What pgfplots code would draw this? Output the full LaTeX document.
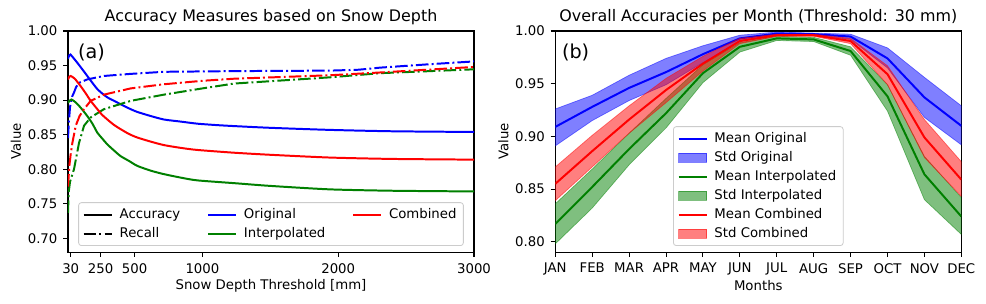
\documentclass[border=0pt]{standalone}
\usepackage{fontspec}
\setmainfont{DejaVu Sans}
\usepackage{pgfplots}
\pgfplotsset{compat=1.18}
\usepackage{pgfplotstable}

\newcommand{\fs}{\fontsize{9.7}{11.6}\selectfont}
\definecolor{mblue}{RGB}{0,0,255}
\definecolor{mgreen}{RGB}{0,128,0}
\definecolor{mred}{RGB}{255,0,0}
\definecolor{legframe}{RGB}{204,204,204}

\pgfplotstableread{
x acc
10 0.960
20 0.965
28 0.966
50 0.961
79 0.954
110 0.946
152 0.935
190 0.925
226 0.916
260 0.910
300 0.904
350 0.899
398 0.894
460 0.888
520 0.883
620 0.877
717 0.872
840 0.869
962 0.866
1100 0.864
1233 0.8625
1500 0.860
1939 0.857
2400 0.855
3000 0.854
}\accorig

\pgfplotstableread{
x acc
10 0.930
20 0.934
30 0.935
60 0.931
104 0.920
140 0.910
177 0.899
226 0.887
260 0.879
300 0.872
350 0.864
398 0.858
460 0.851
520 0.846
620 0.840
717 0.835
840 0.831
962 0.828
1233 0.824
1500 0.821
1939 0.817
2400 0.815
3000 0.814
}\acccomb

\pgfplotstableread{
x acc
10 0.896
20 0.899
35 0.901
65 0.897
104 0.889
152 0.877
190 0.866
226 0.853
260 0.845
300 0.836
350 0.827
398 0.819
460 0.812
520 0.805
620 0.798
717 0.793
840 0.788
962 0.784
1233 0.780
1500 0.776
1939 0.771
2400 0.769
3000 0.768
}\accinterp

\pgfplotstableread{
x rec
10 0.845
17 0.870
25 0.890
40 0.905
54 0.911
70 0.919
91 0.925
152 0.930
275 0.935
472 0.938
717 0.941
1233 0.942
1939 0.9427
2150 0.944
2307 0.947
2676 0.952
3000 0.956
}\recorig

\pgfplotstableread{
x rec
10 0.775
20 0.805
30 0.822
42 0.838
67 0.863
95 0.877
128 0.887
177 0.899
275 0.908
472 0.917
717 0.923
1000 0.928
1233 0.931
1939 0.936
2307 0.940
3000 0.948
}\reccomb

\pgfplotstableread{
x rec
10 0.737
15 0.767
25 0.782
54 0.800
91 0.838
128 0.863
177 0.875
275 0.887
472 0.899
717 0.908
1000 0.917
1233 0.924
1939 0.933
2307 0.939
3000 0.9446
}\recinterp

\pgfplotstableread{
m bm rm gm
0 0.909 0.855 0.817
1 0.928 0.886 0.852
2 0.946 0.916 0.888
3 0.961 0.944 0.922
4 0.978 0.969 0.960
5 0.993 0.9905 0.985
6 0.9975 0.996 0.993
7 0.997 0.996 0.992
8 0.9947 0.9905 0.981
9 0.974 0.959 0.938
10 0.937 0.899 0.864
11 0.910 0.859 0.824
}\monthdata

\pgfplotsset{
  base/.style={
    scale only axis, width=296.38pt, height=161.55pt,
    axis line style={line width=0.78pt},
    tick style={line width=0.78pt, black},
    major tick length=3.4pt,
    tick align=outside, tick pos=left,
    tick label style={font=\fs},
    xticklabel style={yshift=-1pt},
    yticklabel style={xshift=-0.8pt},
    every axis title/.style={at={(axis description cs:0.5,1.062)}, anchor=center, font=\fontsize{11.6}{13.9}\selectfont},
    every axis x label/.style={at={(axis description cs:0.5,-0.152)}, anchor=center, font=\fs},
    every axis y label/.style={at={(axis description cs:-0.128,0.5)}, anchor=center, rotate=90, font=\fs},
    legend cell align=left,
    legend image code/.code={\draw[#1, sharp corners] (0pt,0pt) -- (20.5pt,0pt);},
    legend style={
      font=\fs, draw=legframe, line width=0.6pt, rounded corners=2pt,
      fill=white, fill opacity=0.8, text opacity=1,
      inner xsep=3pt, inner ysep=2.3pt, row sep=1.0pt,
      at={(0.5,0.0285)}, anchor=south,
      /tikz/every odd column/.append style={column sep=3pt},
    },
  },
  patchleg/.style={legend image code/.code={\draw[##1, sharp corners] (0pt,-3.4pt) rectangle (20.5pt,3.4pt);}},
  dd/.style={line width=1.45pt, dash pattern=on 9.2pt off 2.3pt on 1.4pt off 2.3pt},
  sl/.style={line width=1.45pt},
  band/.style={fill=#1, fill opacity=0.5, draw=#1, draw opacity=0.5, line width=0.5pt},
}

\begin{document}
\begin{tikzpicture}
\path[use as bounding box] (-49.64pt,-37.74pt) rectangle (670.14pt,184.18pt);

\begin{axis}[base,
  at={(0pt,0pt)}, anchor=south west,
  xmin=10, xmax=3000, ymin=0.68, ymax=1.0,
  xtick={30,250,500,1000,2000,3000},
  xticklabels={30,250,500,1000,2000,3000},
  ytick={0.70,0.75,0.80,0.85,0.90,0.95,1.00},
  yticklabels={0.70,0.75,0.80,0.85,0.90,0.95,1.00},
  title={Accuracy Measures based on Snow Depth},
  xlabel={Snow Depth Threshold [mm]},
  ylabel={Value},
  legend columns=3,
  legend style={/tikz/every even column/.append style={column sep=17.5pt}},
]
\addplot[sl, mblue, smooth, tension=0.4, forget plot] table[x=x,y=acc] {\accorig};
\addplot[dd, mblue, forget plot] table[x=x,y=rec] {\recorig};
\addplot[sl, mgreen, smooth, tension=0.4, forget plot] table[x=x,y=acc] {\accinterp};
\addplot[dd, mgreen, forget plot] table[x=x,y=rec] {\recinterp};
\addplot[sl, mred, smooth, tension=0.4, forget plot] table[x=x,y=acc] {\acccomb};
\addplot[dd, mred, forget plot] table[x=x,y=rec] {\reccomb};
\addlegendimage{sl, black}\addlegendentry{Accuracy}
\addlegendimage{sl, mblue}\addlegendentry{Original}
\addlegendimage{sl, mred}\addlegendentry{Combined}
\addlegendimage{dd, black}\addlegendentry{Recall}
\addlegendimage{sl, mgreen}\addlegendentry{Interpolated}
\node[font=\fontsize{14}{16}\selectfont] at (rel axis cs:0.058,0.905) {(a)};
\end{axis}

\begin{axis}[base,
  at={(355.73pt,0pt)}, anchor=south west,
  xmin=0, xmax=11, ymin=0.79, ymax=1.0,
  xtick={0,1,2,3,4,5,6,7,8,9,10,11},
  xticklabels={JAN,FEB,MAR,APR,MAY,JUN,JUL,AUG,SEP,OCT,NOV,DEC},
  ytick={0.80,0.85,0.90,0.95,1.00},
  yticklabels={0.80,0.85,0.90,0.95,1.00},
  title={Overall Accuracies per Month (Threshold: 30 mm)},
  xlabel={Months},
  ylabel={Value},
  legend columns=1,
]
\addplot[sl, mblue, forget plot] table[x=m,y=bm] {\monthdata};
\addplot[band=mblue, forget plot] coordinates {(0,0.926)(1,0.939)(2,0.958)(3,0.974)(4,0.986)(5,0.996)(6,0.999)(7,0.998)(8,0.997)(9,0.984)(10,0.956)(11,0.929)(11,0.892)(10,0.918)(9,0.965)(8,0.992)(7,0.996)(6,0.996)(5,0.990)(4,0.970)(3,0.949)(2,0.934)(1,0.915)(0,0.891)} -- cycle;
\addplot[sl, mgreen, forget plot] table[x=m,y=gm] {\monthdata};
\addplot[band=mgreen, forget plot] coordinates {(0,0.836)(1,0.869)(2,0.903)(3,0.936)(4,0.968)(5,0.989)(6,0.995)(7,0.994)(8,0.985)(9,0.949)(10,0.881)(11,0.842)(11,0.807)(10,0.840)(9,0.924)(8,0.977)(7,0.990)(6,0.991)(5,0.980)(4,0.951)(3,0.908)(2,0.873)(1,0.832)(0,0.798)} -- cycle;
\addplot[sl, mred, forget plot] table[x=m,y=rm] {\monthdata};
\addplot[band=mred, forget plot] coordinates {(0,0.871)(1,0.901)(2,0.929)(3,0.955)(4,0.976)(5,0.993)(6,0.997)(7,0.997)(8,0.993)(9,0.967)(10,0.916)(11,0.876)(11,0.843)(10,0.880)(9,0.949)(8,0.988)(7,0.995)(6,0.995)(5,0.988)(4,0.962)(3,0.932)(2,0.903)(1,0.871)(0,0.839)} -- cycle;
\addlegendimage{sl, mblue}\addlegendentry{Mean Original}
\addlegendimage{patchleg, band=mblue}\addlegendentry{Std Original}
\addlegendimage{sl, mgreen}\addlegendentry{Mean Interpolated}
\addlegendimage{patchleg, band=mgreen}\addlegendentry{Std Interpolated}
\addlegendimage{sl, mred}\addlegendentry{Mean Combined}
\addlegendimage{patchleg, band=mred}\addlegendentry{Std Combined}
\node[font=\fontsize{14}{16}\selectfont] at (rel axis cs:0.05,0.905) {(b)};
\end{axis}
\end{tikzpicture}
\end{document}
